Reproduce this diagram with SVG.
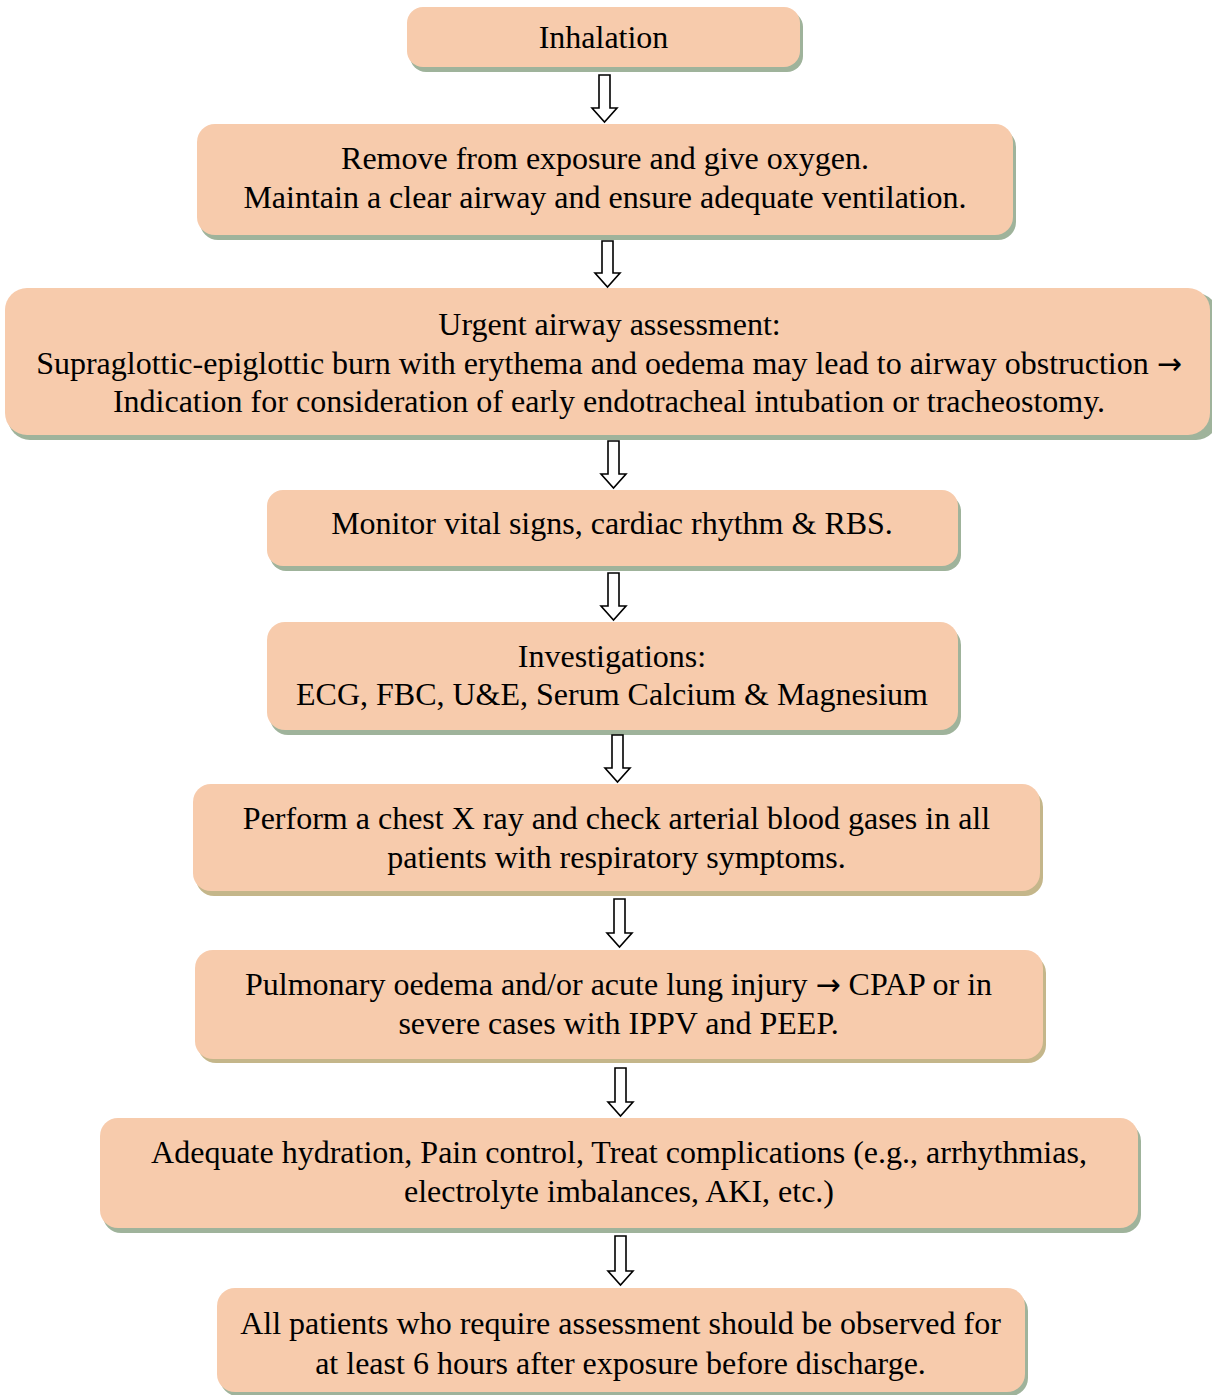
<svg xmlns="http://www.w3.org/2000/svg" width="1212" height="1395" viewBox="0 0 1212 1395">
  <style>
    .box { fill: #f7cbac; }
    .sh-green { fill: #9fb39b; }
    .sh-tan { fill: #c4b68a; }
    .lbl { font-family: "Liberation Serif", "Times New Roman", serif; font-size: 32px; fill: #000; text-anchor: middle; }
    .sym { font-family: "DejaVu Sans", sans-serif; font-size: 30px; }
    .arrow { fill: #fff; stroke: #000; stroke-width: 1.6; stroke-linejoin: miter; }
  </style>
  <rect width="1212" height="1395" fill="#fff"/>

  <g id="n1">
    <rect class="sh-green" x="410" y="11" width="393" height="61" rx="16"/>
    <rect class="box" x="407" y="7" width="393" height="60" rx="16"/>
    <text class="lbl" x="603.5" y="48">Inhalation</text>
  </g>

  <g id="n2">
    <rect class="sh-green" x="200" y="129" width="816" height="111" rx="18"/>
    <rect class="box" x="197" y="124" width="816" height="111" rx="18"/>
    <text class="lbl" x="605" y="169">Remove from exposure and give oxygen.</text>
    <text class="lbl" x="605" y="208">Maintain a clear airway and ensure adequate ventilation.</text>
  </g>

  <g id="n3">
    <rect class="sh-green" x="8" y="293" width="1210" height="147" rx="22"/>
    <rect class="box" x="5" y="288" width="1205" height="147" rx="22"/>
    <text class="lbl" x="609.5" y="335">Urgent airway assessment:</text>
    <text class="lbl" x="609" y="374">Supraglottic-epiglottic burn with erythema and oedema may lead to airway obstruction <tspan class="sym">→</tspan></text>
    <text class="lbl" x="609" y="412">Indication for consideration of early endotracheal intubation or tracheostomy.</text>
  </g>

  <g id="n4">
    <rect class="sh-green" x="270" y="495" width="691" height="76" rx="16"/>
    <rect class="box" x="267" y="490" width="691" height="76" rx="16"/>
    <text class="lbl" x="612" y="534">Monitor vital signs, cardiac rhythm &amp; RBS.</text>
  </g>

  <g id="n5">
    <rect class="sh-green" x="270" y="627" width="691" height="108" rx="18"/>
    <rect class="box" x="267" y="622" width="691" height="108" rx="18"/>
    <text class="lbl" x="612" y="667">Investigations:</text>
    <text class="lbl" x="612" y="705">ECG, FBC, U&amp;E, Serum Calcium &amp; Magnesium</text>
  </g>

  <g id="n6">
    <rect class="sh-tan" x="196" y="789" width="847" height="107" rx="18"/>
    <rect class="box" x="193" y="784" width="847" height="107" rx="18"/>
    <text class="lbl" x="616.5" y="829">Perform a chest X ray and check arterial blood gases in all</text>
    <text class="lbl" x="616.5" y="868">patients with respiratory symptoms.</text>
  </g>

  <g id="n7">
    <rect class="sh-tan" x="198" y="955" width="848" height="108" rx="18"/>
    <rect class="box" x="195" y="950" width="848" height="109" rx="18"/>
    <text class="lbl" x="618.5" y="995">Pulmonary oedema and/or acute lung injury <tspan class="sym">→</tspan> CPAP or in</text>
    <text class="lbl" x="618.5" y="1034">severe cases with IPPV and PEEP.</text>
  </g>

  <g id="n8">
    <rect class="sh-green" x="103" y="1123" width="1038" height="110" rx="18"/>
    <rect class="box" x="100" y="1118" width="1038" height="110" rx="18"/>
    <text class="lbl" x="619" y="1163">Adequate hydration, Pain control, Treat complications (e.g., arrhythmias,</text>
    <text class="lbl" x="619" y="1202">electrolyte imbalances, AKI, etc.)</text>
  </g>

  <g id="n9">
    <rect class="sh-green" x="220" y="1293" width="808" height="103" rx="18"/>
    <rect class="box" x="217" y="1288" width="808" height="104" rx="18"/>
    <text class="lbl" x="620.5" y="1334">All patients who require assessment should be observed for</text>
    <text class="lbl" x="620.5" y="1374">at least 6 hours after exposure before discharge.</text>
  </g>

  <!-- hollow block arrows between steps -->
  <g id="connectors">
    <path class="arrow" d="M599 75 H610 V108 H617 L604.5 122 L592 108 H599 Z"/>
    <path class="arrow" d="M602 241 H613 V273 H620 L607.5 287 L595 273 H602 Z"/>
    <path class="arrow" d="M608 441 H619 V474 H626 L613.5 488 L601 474 H608 Z"/>
    <path class="arrow" d="M608 573 H619 V606 H626 L613.5 620 L601 606 H608 Z"/>
    <path class="arrow" d="M612 735 H623 V768 H630 L617.5 782 L605 768 H612 Z"/>
    <path class="arrow" d="M614 899 H625 V933 H632 L619.5 947 L607 933 H614 Z"/>
    <path class="arrow" d="M615 1068 H626 V1102 H633 L620.5 1116 L608 1102 H615 Z"/>
    <path class="arrow" d="M615 1236 H626 V1271 H633 L620.5 1285 L608 1271 H615 Z"/>
  </g>
</svg>
